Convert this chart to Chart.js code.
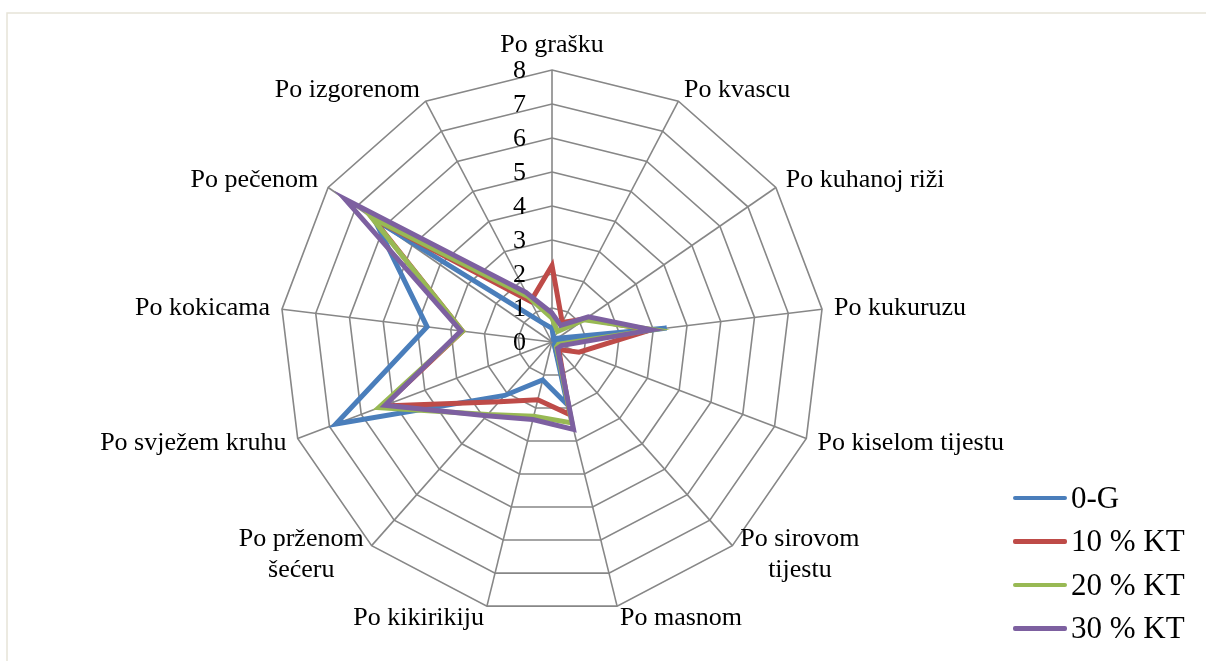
<!DOCTYPE html>
<html>
<head>
<meta charset="utf-8">
<script src="https://cdn.jsdelivr.net/npm/chart.js@4"></script>
<style>
  body { margin: 0; background: #fff; }
  #wrap { position: relative; width: 1206px; height: 661px; }
  #legend { position: absolute; left: 1013px; top: 476px; font-family: "Liberation Serif", serif; font-size: 31px; color: #000; }
  #legend div.item { display: flex; align-items: center; height: 43.5px; }
  #legend span.line { display: inline-block; width: 54px; height: 4.5px; border-radius: 2px; margin-right: 4px; }
</style>
</head>
<body>
<div id="wrap">
  <canvas id="radar"></canvas>
  <div id="legend"></div>
</div>
<script>
// aroma attributes (axis categories), clockwise from the top
const categories = [
    'Po grašku', 'Po kvascu', 'Po kuhanoj riži', 'Po kukuruzu', 'Po kiselom tijestu',
    ['Po sirovom', 'tijestu'], 'Po masnom', 'Po kikirikiju', ['Po prženom', 'šećeru'],
    'Po svježem kruhu', 'Po kokicama', 'Po pečenom', 'Po izgorenom',
];

const seriesNames = ['0-G', '10 % KT', '20 % KT', '30 % KT'];

const values0G = [0.4, 0.1, 0.2, 3.4, 0.1, 0.1, 1.9, 1.15, 2.1, 6.8, 3.7, 6.35, 0.65];
const values10 = [2.25, 0.65, 1.2, 2.9, 0.85, 0.3, 2.2, 1.75, 2.35, 5.3, 2.65, 6.4, 1.35];
const values20 = [0.7, 0.35, 1.15, 3.0, 0.2, 0.2, 2.45, 2.25, 2.85, 5.45, 2.65, 6.45, 1.5];
const values30 = [0.85, 0.55, 1.3, 2.95, 0.3, 0.25, 2.65, 2.35, 2.9, 5.25, 2.7, 7.4, 1.65];

const tickValues = [0, 1, 2, 3, 4, 5, 6, 7, 8];

const colors = ['#4A7EBB', '#BE4B48', '#98B954', '#7D60A0'];
const FONT = '"Liberation Serif", "Times New Roman", serif';

const seriesValues = [values0G, values10, values20, values30];

// Excel-like axis labels, tick numbers and chart border
const excelDecor = {
    id: 'excelDecor',
    beforeDraw(chart) {
        const ctx = chart.ctx;
        ctx.save();
        ctx.strokeStyle = '#e6e3d8';
        ctx.lineWidth = 1.5;
        ctx.strokeRect(7, 13, 1220, 680);
        ctx.restore();
    },
    afterDatasetsDraw(chart) {
        const ctx = chart.ctx;
        const scale = chart.scales.r;
        ctx.save();
        ctx.fillStyle = '#000';
        ctx.font = `26px ${FONT}`;

        // value ticks, left of the vertical axis
        ctx.textAlign = 'right';
        ctx.textBaseline = 'middle';
        tickValues.forEach((v) => {
            const p = scale.getPointPositionForValue(0, v);
            ctx.fillText(String(v), p.x - 26, p.y + 1);
        });

        // category labels around the outside
        const outer = scale.drawingArea + 12;
        categories.forEach((label, i) => {
            const p = scale.getPointPosition(i, outer);
            const dx = p.x - scale.xCenter;
            const lines = Array.isArray(label) ? label : [label];
            const lh = 31;
            const widths = lines.map((l) => ctx.measureText(l).width);
            const w = Math.max(...widths);
            let left;
            if (Math.abs(dx) < 3) left = p.x - w / 2;
            else if (dx > 0) left = p.x;
            else left = p.x - w;
            let cy = p.y;
            if (i === 0) cy = p.y - 13;
            ctx.textAlign = 'center';
            ctx.textBaseline = 'middle';
            lines.forEach((l, k) => {
                const y = cy + (k - (lines.length - 1) / 2) * lh;
                ctx.fillText(l, left + w / 2, y);
            });
        });
        ctx.restore();
    },
};

const canvas = document.getElementById('radar');

new Chart(canvas, {
    type: 'radar',
    data: {
        labels: categories,
        datasets: seriesNames.map((name, i) => ({
            label: name,
            data: seriesValues[i],
            borderColor: colors[i],
            backgroundColor: colors[i],
            borderWidth: 5,
            pointRadius: 0,
            fill: false,
            order: seriesNames.length - i,
        })),
    },
    options: {
        responsive: true,
        maintainAspectRatio: false,
        animation: false,
        layout: { padding: { left: 280, right: 382, top: 70, bottom: 47 } },
        plugins: {
            legend: { display: false },
            tooltip: { enabled: false },
        },
        scales: {
            r: {
                min: 0,
                max: 8,
                ticks: { display: false, stepSize: 1 },
                pointLabels: { display: false },
                grid: { color: '#878787', lineWidth: 1.6 },
                angleLines: { color: '#878787', lineWidth: 1.6 },
            },
        },
    },
    plugins: [excelDecor],
});

// legend built from the series arrays
const legend = document.getElementById('legend');
seriesNames.forEach((name, i) => {
    const item = document.createElement('div');
    item.className = 'item';
    const line = document.createElement('span');
    line.className = 'line';
    line.style.background = colors[i];
    item.appendChild(line);
    item.appendChild(document.createTextNode(name));
    legend.appendChild(item);
});
</script>
</body>
</html>
